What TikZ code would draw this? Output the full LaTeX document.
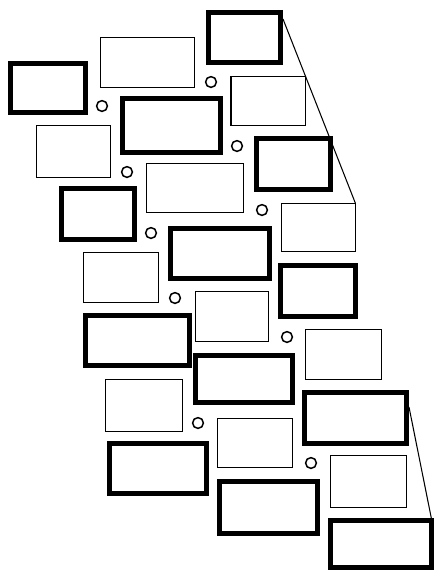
\documentclass[tikz,border=0pt]{standalone}
\usepackage{tikz}
\usetikzlibrary{calc}
\usepackage{xcolor}
\definecolor{edgeclr}{RGB}{0, 0, 0}
\tikzset{
  % Qalin ramkali plitalar
  thickbox/.style  = {draw=edgeclr, line width=2.85pt},
  % Ingichka ramkali plitalar
  thinbox/.style   = {draw=edgeclr, line width=0.7pt},
  % Kichik teshiklar
  pinhole/.style   = {draw=edgeclr, line width=0.85pt},
  % Proyeksiya chiziqlari
  guideline/.style = {draw=edgeclr, line width=0.6pt},
}
\begin{document}
\begin{tikzpicture}[x=0.02cm, y=-0.02cm]
  \useasboundingbox (0,0) rectangle (434,572);
  % Qalin plitalar
  \draw[thickbox] (10.5,63.5)  rectangle (85.5,112.5);
  \draw[thickbox] (122.5,98.5) rectangle (220.5,152.5);
  \draw[thickbox] (208.5,12.5) rectangle (280.5,62.5);
  \draw[thickbox] (256.5,138.5) rectangle (330.5,189.5);
  \draw[thickbox] (61.5,188.5) rectangle (134.5,239.5);
  \draw[thickbox] (170.5,228.5) rectangle (269.5,278.5);
  \draw[thickbox] (280.5,265.5) rectangle (355.5,316.5);
  \draw[thickbox] (85.5,315.5) rectangle (189.5,365.5);
  \draw[thickbox] (195.5,355.5) rectangle (292.5,402.5);
  \draw[thickbox] (304.5,392.5) rectangle (406.5,443.5);
  \draw[thickbox] (109.5,443.5) rectangle (206.5,493.5);
  \draw[thickbox] (219.5,481.5) rectangle (317.5,533.5);
  \draw[thickbox] (330.5,520.5) rectangle (431.5,567.5);
  % Ingichka plitalar
  \draw[thinbox] (100.5,37.5) rectangle (194.5,87.5);
  \draw[thinbox] (231,76.5)   rectangle (305.5,125.5);
  \draw[thinbox] (36.5,125.5) rectangle (110.5,177.5);
  \draw[thinbox] (146.5,163.5) rectangle (243.5,212.5);
  \draw[thinbox] (281.5,203.5) rectangle (355.5,251.5);
  \draw[thinbox] (83.5,252.5) rectangle (158.5,302.5);
  \draw[thinbox] (195.5,291.5) rectangle (268.5,341.5);
  \draw[thinbox] (305.5,329.5) rectangle (381.5,379.5);
  \draw[thinbox] (105.5,379.5) rectangle (182.5,431.5);
  \draw[thinbox] (217.5,418.5) rectangle (292.5,467.5);
  \draw[thinbox] (330.5,455.5) rectangle (406.5,507.5);
  % Teshiklar
  \draw[pinhole] (211,82)  circle[radius=5.4];
  \draw[pinhole] (102,106) circle[radius=5.4];
  \draw[pinhole] (237,146) circle[radius=5.4];
  \draw[pinhole] (127,172) circle[radius=5.4];
  \draw[pinhole] (262,210) circle[radius=5.4];
  \draw[pinhole] (151,233) circle[radius=5.4];
  \draw[pinhole] (175,298) circle[radius=5.4];
  \draw[pinhole] (287,337) circle[radius=5.4];
  \draw[pinhole] (198,423) circle[radius=5.4];
  \draw[pinhole] (311,463) circle[radius=5.4];
  % Proyeksiya chiziqlari
  \coordinate (topfrom) at (283,19);
  \coordinate (topto)   at (355.5,203.5);
  \coordinate (lowfrom) at (409,407);
  \coordinate (lowto)   at (431.5,519);
  \draw[guideline] (topfrom) -- (topto);
  \draw[guideline] (lowfrom) -- (lowto);
\end{tikzpicture}
\end{document}
